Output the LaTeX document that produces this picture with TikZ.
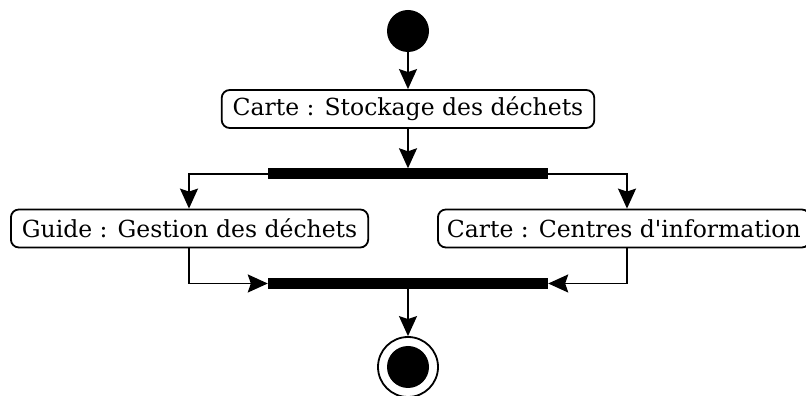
\documentclass[tikz,border=0pt]{standalone}
\usepackage{fontspec}
\newfontfamily\dvserif{DejaVu Serif}
\usetikzlibrary{arrows.meta}
\begin{document}
\begin{tikzpicture}[x=1pt,y=1pt,
  actbox/.style={draw, line width=1.8pt, rounded corners=8pt, minimum height=38pt, inner xsep=11pt, font=\dvserif\fontsize{23.5}{28}\selectfont},
  bar/.style={fill=black, minimum width=280pt, minimum height=11pt, inner sep=0pt},
  arr/.style={line width=1.8pt, -{Stealth[length=20pt, width=18pt, inset=3pt]}}]
\useasboundingbox (0,0) rectangle (806,396);
\node[circle, fill=black, minimum size=42pt, inner sep=0pt] (start) at (408,365) {};
\node[actbox] (A) at (408,287) {Carte : Stockage des déchets};
\node[bar] (fork) at (408,222) {};
\node[actbox, anchor=west] (G) at (10,167.5) {Guide : Gestion des déchets};
\node[actbox, anchor=west, inner xsep=9pt] (C) at (437,167.5) {Carte : Centres d'information};
\node[bar] (join) at (408,112.5) {};
\node[circle, draw, line width=1.8pt, minimum size=60pt, inner sep=0pt] (end) at (408,29) {};
\node[circle, fill=black, minimum size=42pt, inner sep=0pt] (endin) at (408,29) {};
\coordinate (cx) at (627,0);
\coordinate (gx) at (189,0);
\draw[arr] (start) -- (A);
\draw[arr] (A) -- (fork);
\draw[arr] (fork.west) -| (G.north -| gx);
\draw[arr] (fork.east) -| (C.north -| cx);
\draw[arr] (G.south -| gx) |- (join.west);
\draw[arr] (C.south -| cx) |- (join.east);
\draw[arr] (join) -- (end);
\end{tikzpicture}
\end{document}
